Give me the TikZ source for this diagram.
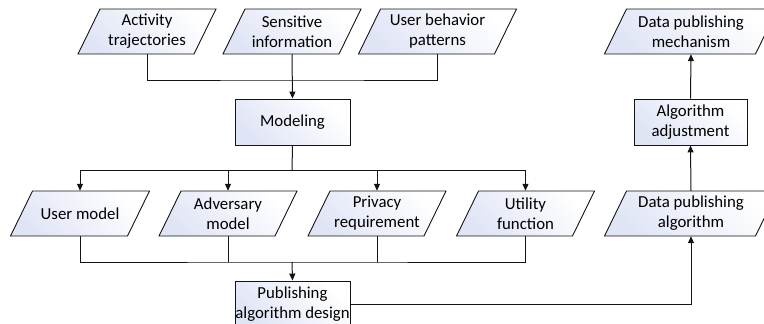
\documentclass[tikz,border=0pt]{standalone}
\usepackage{fontspec}
\setmainfont{Carlito}
\usetikzlibrary{arrows.meta}
\definecolor{shadeblue}{RGB}{224,229,246}
\definecolor{linec}{RGB}{20,20,20}
\tikzset{
  shaded/.style={left color=shadeblue, right color=white, shading angle=135},
  parashape/.style={shaded, draw=linec, line width=0.9pt, line join=miter},
  boxnode/.style={rectangle, shaded, draw=linec, line width=0.9pt, minimum width=115pt, minimum height=46pt, inner sep=0pt, align=center, font={\fontsize{16.8}{20}\selectfont}},
  txtnode/.style={rectangle, draw=none, minimum height=45pt, inner sep=0pt, align=center, font={\fontsize{16.8}{20}\selectfont}},
  conn/.style={draw=linec, line width=1pt},
  arr/.style={conn, -{Triangle[length=7pt,width=6pt]}}
}
% name, cx, cy, bottom width, text
\newcommand\mypara[5]{%
  \path[parashape] ({#2-#4/2-11},{#3+22.5}) -- ({#2+#4/2-11},{#3+22.5}) -- ({#2+#4/2+11},{#3-22.5}) -- ({#2-#4/2+11},{#3-22.5}) -- cycle;
  \node[txtnode, minimum width=#4pt] (#1) at (#2,#3) {#5};
}
\begin{document}
\begin{tikzpicture}[x=1pt,y=-1pt]
\useasboundingbox (0,0) rectangle (764,324);
\clip (0,0) rectangle (764,324);
% top row
\mypara{act}{147}{31.5}{116}{Activity\\trajectories}
\mypara{sens}{292}{31.5}{116}{Sensitive\\information}
\mypara{ubp}{437.5}{31.5}{136}{User behavior\\patterns}
\mypara{dpm}{691}{31.5}{151}{Data publishing\\mechanism}
% boxes
\node[boxnode] (mod) at (292.5,122) {Modeling};
\node[boxnode, minimum width=113pt] (adj) at (690.5,122) {Algorithm\\adjustment};
\node[boxnode] (pub) at (292.5,304) {Publishing\\algorithm design};
% second row
\mypara{um}{80}{213.5}{117}{User model}
\mypara{adv}{228}{213.5}{116}{Adversary\\model}
\mypara{priv}{377}{213.5}{116}{Privacy\\requirement}
\mypara{utl}{525.5}{213.5}{116}{Utility\\function}
\mypara{dpa}{691}{213.5}{151}{Data publishing\\algorithm}
% junction points
\coordinate (j1) at (292,80);
\coordinate (j2) at (292,170);
\coordinate (j3) at (292,262);
% connectors
\draw[conn] (act.south) |- (j1) -| (ubp.south);
\draw[arr] (sens.south) -- (mod.north);
\draw[conn] (mod.south) -- (j2);
\draw[arr] (j2) -| (um.north);
\draw[arr] (j2) -| (adv.north);
\draw[arr] (j2) -| (priv.north);
\draw[arr] (j2) -| (utl.north);
\draw[conn] (um.south) |- (j3) -| (utl.south);
\draw[conn] (adv.south) -- (adv.south |- j3);
\draw[conn] (priv.south) -- (priv.south |- j3);
\draw[arr] (j3) -- (pub.north);
\draw[arr] (pub.east) -| (dpa.south);
\draw[arr] (dpa.north) -- (adj.south);
\draw[arr] (adj.north) -- (dpm.south);
\end{tikzpicture}
\end{document}
